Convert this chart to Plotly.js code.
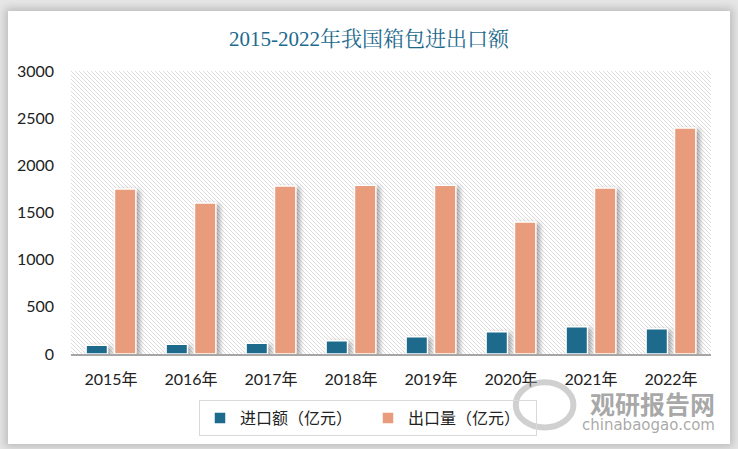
<!DOCTYPE html>
<html>
<head>
<meta charset="utf-8">
<script src="https://cdn.plot.ly/plotly-3.0.1.min.js"></script>
<style>
  html, body { margin: 0; padding: 0; width: 738px; height: 449px; overflow: hidden; background: #e6e6e6; }
  #card { position: absolute; left: 8px; top: 11px; width: 722px; height: 433px; background: #fff;
          box-shadow: 0 0 8px 3px rgba(0,0,0,0.18); }
  #chart { position: absolute; left: 0; top: 0; width: 738px; height: 449px; }
  #chart .barlayer path { filter: drop-shadow(3px 2px 2.5px rgba(0,0,0,0.35)); }
</style>
</head>
<body>
<div id="card"></div>
<div id="chart"></div>
<script>
const categories = ["2015年", "2016年", "2017年", "2018年", "2019年", "2020年", "2021年", "2022年"];
const importValues = [92, 103, 113, 141, 183, 237, 290, 268];
const exportValues = [1750, 1600, 1780, 1790, 1790, 1400, 1760, 2395];
const seriesNames = ["进口额（亿元）", "出口量（亿元）"];
const yTicks = [0, 500, 1000, 1500, 2000, 2500, 3000];

const hatch = 'data:image/svg+xml;utf8,' + encodeURIComponent(
  '<svg xmlns="http://www.w3.org/2000/svg" width="640" height="283" viewBox="0 0 640 283" preserveAspectRatio="none">' +
  '<defs><pattern id="p" width="4" height="4" patternUnits="userSpaceOnUse">' +
  '<rect width="4" height="4" fill="#ffffff"/>' +
  '<path d="M-1,3 L1,5 M0,0 L4,4 M3,-1 L5,1" stroke="#dadada" stroke-width="0.9"/>' +
  '</pattern></defs><rect width="640" height="283" fill="url(#p)"/></svg>');

const tickFont = { family: "Lato, 'Noto Sans CJK SC', sans-serif", size: 16, color: "#222" };

const data = [
  { type: "bar", name: seriesNames[0], x: categories, y: importValues,
    marker: { color: "#1d6a8d", line: { color: "#ffffff", width: 1.5 } }, hoverinfo: "x+y" },
  { type: "bar", name: seriesNames[1], x: categories, y: exportValues,
    marker: { color: "#e89c7b", line: { color: "#ffffff", width: 1.5 } }, hoverinfo: "x+y" }
];

const layout = {
  width: 738, height: 449,
  margin: { l: 71, r: 27, t: 71, b: 95 },
  paper_bgcolor: "rgba(0,0,0,0)",
  plot_bgcolor: "rgba(0,0,0,0)",
  barmode: "group", bargap: 0.29, bargroupgap: 0.245,
  title: { text: "2015-2022年我国箱包进出口额", x: 0.5, xanchor: "center", y: 0.913, yanchor: "middle",
           font: { family: "'Liberation Serif', 'Noto Serif CJK SC', 'Noto Sans CJK SC', serif", size: 21, color: "#1d6a8d" } },
  xaxis: { type: "category", showgrid: false, zeroline: false, showline: true, linecolor: "#a6a6a6", linewidth: 1.5,
           ticks: "", tickfont: tickFont, ticklabelstandoff: 10, fixedrange: true },
  yaxis: { range: [0, 3000], tickvals: yTicks, showgrid: false, zeroline: false, showline: false,
           ticks: "", tickfont: tickFont, ticklabelstandoff: 16, fixedrange: true },
  legend: { orientation: "h", x: 0.200, xanchor: "left", y: -0.163, yanchor: "top",
            bordercolor: "#d9d9d9", borderwidth: 1, bgcolor: "rgba(255,255,255,0)",
            font: { family: "'Noto Sans CJK SC', sans-serif", size: 16, color: "#222" },
            itemwidth: 30, entrywidth: 123, entrywidthmode: "pixels", traceorder: "normal" },
  images: [{ source: hatch, xref: "paper", yref: "paper", x: 0, y: 1, sizex: 1, sizey: 1,
             xanchor: "left", yanchor: "top", sizing: "stretch", layer: "below" }],
  shapes: [
    { type: "circle", xref: "paper", yref: "paper", x0: 0.695, x1: 0.785, y0: -0.26, y1: -0.10,
      line: { color: "rgba(150,150,150,0.45)", width: 6 }, layer: "above" }
  ],
  annotations: [
    { text: "<b>观研报告网</b>", xref: "paper", yref: "paper", x: 1.01, y: -0.172, xanchor: "right", yanchor: "middle",
      showarrow: false, font: { family: "'Noto Sans CJK SC', sans-serif", size: 25, color: "rgba(140,140,140,0.75)" } },
    { text: "chinabaogao.com", xref: "paper", yref: "paper", x: 1.01, y: -0.252, xanchor: "right", yanchor: "middle",
      showarrow: false, font: { family: "'DejaVu Sans', sans-serif", size: 15, color: "rgba(140,140,140,0.75)" } }
  ]
};

Plotly.newPlot("chart", data, layout, { displayModeBar: false, staticPlot: true });
</script>
</body>
</html>
